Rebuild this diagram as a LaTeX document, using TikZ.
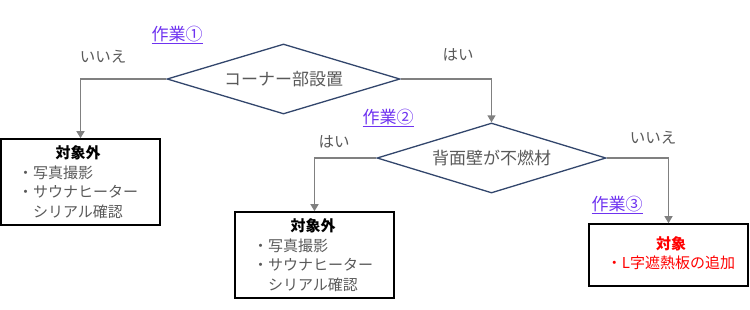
\documentclass[tikz,border=0pt]{standalone}
\usepackage{fontspec}
\newfontfamily\jp{Noto Sans CJK JP}
\usetikzlibrary{shapes.geometric,arrows.meta}
\definecolor{txtgray}{RGB}{89,89,89}
\definecolor{arrgray}{RGB}{128,128,128}
\definecolor{navy}{RGB}{50,70,108}
\definecolor{linkpurple}{RGB}{110,50,240}
\definecolor{redtxt}{RGB}{255,0,0}
\tikzset{
  every node/.style={font=\jp},
  decision/.style={draw=navy, line width=1.3pt, diamond, inner sep=0pt, minimum width=#1, minimum height=70pt},
  decisiontext/.style={text=txtgray, inner sep=0pt, font=\jp\fontsize{17}{20}\selectfont},
  resultbox/.style={draw=black, line width=1.6pt, rectangle, inner sep=0pt, minimum width=159pt},
  flow/.style={draw=arrgray, line width=1.3pt, -{Triangle[width=8pt,length=7pt]}},
  answer/.style={text=txtgray, font=\jp\fontsize{15.5}{18}\selectfont, inner sep=0pt},
  worklabel/.style={text=linkpurple, font=\jp\fontsize{17}{20}\selectfont, inner sep=0pt},
  boxtext/.style={inner sep=0pt, font=\jp\fontsize{15}{19.5}\selectfont, text=txtgray}
}
\begin{document}
\begin{tikzpicture}[x=1pt,y=-1pt]
\useasboundingbox (0,0) rectangle (750,309);
\node[decision=233pt] (d1) at (283.5,79) {};
\node[decisiontext] (d1t) at (d1.center) {コーナー部設置};
\node[decision=229pt] (d2) at (491.5,158) {};
\node[decisiontext] (d2t) at (d2.center) {背面壁が不燃材};
\node[resultbox, minimum height=86pt] (b1) at (80.5,182) {};
\node[resultbox, minimum height=86pt] (b2) at (314.5,255) {};
\node[resultbox, minimum height=62pt] (b3) at (668.5,255) {};
\node[boxtext] (b1t) at (78,184) {\begin{tabular}{@{}l@{}}\multicolumn{1}{c}{\color{black}\bfseries 対象外}\\・写真撮影\\・サウナヒーター\\\hspace{15pt}シリアル確認\end{tabular}};
\node[boxtext] (b2t) at (313,257) {\begin{tabular}{@{}l@{}}\multicolumn{1}{c}{\color{black}\bfseries 対象外}\\・写真撮影\\・サウナヒーター\\\hspace{15pt}シリアル確認\end{tabular}};
\node[boxtext, text=redtxt] (b3t) at (671,255) {\begin{tabular}{@{}c@{}}{\bfseries 対象}\\・L字遮熱板の追加\end{tabular}};
\draw[flow] (d1.west) -| (b1.north);
\draw[flow] (d1.east) -| (d2.north);
\draw[flow] (d2.west) -| (b2.north);
\draw[flow] (d2.east) -| (b3.north);
\node[answer] (l1) at (103,57) {いいえ};
\node[answer] (l2) at (458,55) {はい};
\node[answer] (l3) at (334,142) {はい};
\node[answer] (l4) at (653,138) {いいえ};
\node[worklabel] (w1) at (177,35) {\underline{作業①}};
\node[worklabel] (w2) at (388,118) {\underline{作業②}};
\node[worklabel] (w3) at (617,205) {\underline{作業③}};
\end{tikzpicture}
\end{document}
